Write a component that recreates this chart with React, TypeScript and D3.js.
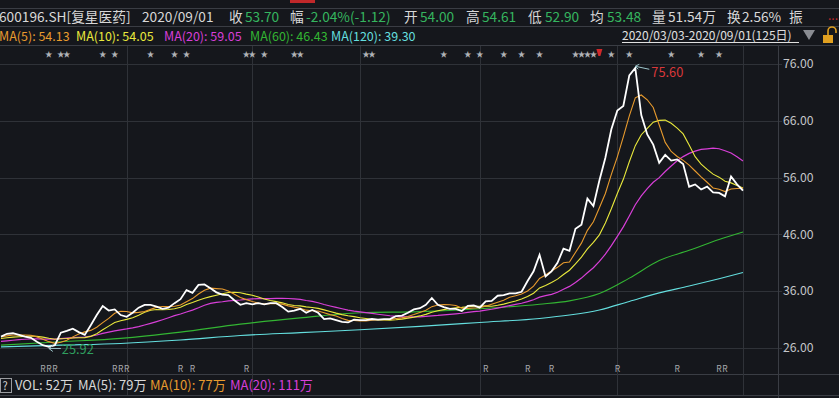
import React from "react";
import * as d3 from "d3";

const W = 839;
const H = 398;

// closes before the visible window (estimated, used only for MA5/10/20 warm-up)
const priorCloses = [26.6, 26.4, 26.2, 26.5, 26.8, 26.9, 27.0, 26.7, 26.5, 26.8, 27.2, 27.5, 27.6, 27.4, 27.3, 27.6, 27.9, 28.2, 28.1];

// daily closes 2020/03/03 - 2020/09/01 (125 trading days)
const closes = [
  28.0, 28.5, 28.6, 28.3, 28.0, 27.8, 27.1, 26.5, 26.2, 26.5,
  28.7, 29.0, 29.4, 28.8, 28.3, 30.0, 31.8, 33.4, 32.6, 32.8,
  31.8, 31.5, 32.2, 33.1, 33.6, 33.6, 33.3, 32.9, 33.1, 33.9,
  34.6, 36.2, 35.7, 37.1, 37.2, 36.5, 35.8, 35.4, 35.3, 34.4,
  33.6, 33.9, 33.7, 33.9, 33.7, 33.9, 33.9, 33.2, 32.4, 32.6,
  32.9, 32.2, 32.7, 32.2, 31.1, 31.2, 30.9, 30.6, 30.5, 31.0,
  30.9, 30.9, 31.1, 31.0, 31.1, 31.1, 31.6, 31.7, 32.2, 32.8,
  33.0, 33.6, 34.8, 33.6, 33.2, 32.9, 32.9, 32.5, 33.4, 33.5,
  33.1, 34.2, 34.3, 35.2, 35.3, 35.6, 35.6, 35.9, 37.8, 39.5,
  42.4, 38.6, 39.5, 41.0, 43.5, 43.1, 47.0, 47.7, 52.3, 51.0,
  55.5, 59.5, 64.5, 67.8, 68.6, 74.0, 75.3, 67.0, 63.6, 61.8,
  58.6, 60.0, 59.0, 59.2, 58.4, 54.4, 54.8, 53.9, 54.4, 53.4,
  53.3, 52.7, 56.2, 54.8, 53.7,
];

const maLongIdx = [0, 10, 20, 30, 40, 50, 60, 70, 80, 90, 95, 100, 105, 110, 115, 120, 124];
const ma60Vals = [26.5, 27.1, 27.7, 28.8, 30.2, 31.3, 32.2, 32.4, 32.9, 33.7, 34.3, 35.6, 38.3, 41.4, 43.2, 45.1, 46.43];
const ma120Vals = [26.2, 26.5, 26.8, 27.4, 28.2, 28.7, 29.2, 29.8, 30.5, 31.2, 31.8, 32.7, 34.2, 35.7, 36.9, 38.2, 39.3];

const priceTicks = [26, 36, 46, 56, 66, 76];
const monthStarts = [21, 42, 60, 80, 103, 124];
const starDays = [8, 10, 11, 17, 19, 25, 29, 31, 41, 42, 44, 49, 50, 61, 62, 74, 78, 80, 84, 87, 90, 96, 97, 98, 99, 102, 105, 112, 117, 120];
const flagDay = 100;
const rDays = [7, 8, 9, 19, 20, 21, 30, 32, 41, 81, 88, 92, 103, 113, 120, 121];
const highIndex = 106;
const highValue = 75.6;
const lowIndex = 8;
const lowValue = 25.92;

const FONT = "'Noto Sans CJK SC', 'Noto Sans', sans-serif";
const BG = "#15171c";
const GRID = "#2f3238";
const GREEN = "#35b55f";
const C_MA5 = "#e89b2e";
const C_MA10 = "#e9e93c";
const C_MA20 = "#d83fd8";
const C_MA60 = "#33b533";
const C_MA120 = "#64dede";

function movingAverage(all: number[], n: number, offset: number, count: number) {
  const out: number[] = [];
  for (let i = 0; i < count; i++) {
    const end = offset + i;
    const start = Math.max(0, end - n + 1);
    out.push(d3.mean(all.slice(start, end + 1)) as number);
  }
  return out;
}

export default function App() {
  const x = d3.scaleLinear().domain([0, closes.length - 1]).range([1, 743]);
  const y = d3.scaleLinear().domain([26, 76]).range([348, 64]);

  const all = [...priorCloses, ...closes];
  const off = priorCloses.length;
  const ma5 = movingAverage(all, 5, off, closes.length);
  const ma10 = movingAverage(all, 10, off, closes.length);
  const ma20 = movingAverage(all, 20, off, closes.length);

  const line = d3.line<number>().x((_, i) => x(i)).y((d) => y(d));
  const lineS = d3
    .line<[number, number]>()
    .x((d) => x(d[0]))
    .y((d) => y(d[1]))
    .curve(d3.curveMonotoneX);
  const ma60Pts = maLongIdx.map((d, i) => [d, ma60Vals[i]] as [number, number]);
  const ma120Pts = maLongIdx.map((d, i) => [d, ma120Vals[i]] as [number, number]);

  const hx = x(highIndex);
  const hy = y(highValue);
  const lx = x(lowIndex);
  const ly = y(lowValue);

  const header: [string, number, string][] = [
    ["600196.SH[复星医药]", -1, "#d8d8d8"],
    ["2020/09/01", 142, "#d8d8d8"],
    ["收", 229, "#d8d8d8"],
    ["53.70", 245, GREEN],
    ["幅", 290, "#d8d8d8"],
    ["-2.04%(-1.12)", 306, GREEN],
    ["开", 404, "#d8d8d8"],
    ["54.00", 420, GREEN],
    ["高", 466, "#d8d8d8"],
    ["54.61", 482, GREEN],
    ["低", 528, "#d8d8d8"],
    ["52.90", 545, GREEN],
    ["均", 590, "#d8d8d8"],
    ["53.48", 607, GREEN],
    ["量", 652, "#d8d8d8"],
    ["51.54万", 668, "#d8d8d8"],
    ["换", 727, "#d8d8d8"],
    ["2.56%", 742, "#d8d8d8"],
    ["振", 789, "#d8d8d8"],
  ];
  const maLegend: [string, number, string][] = [
    ["MA(5): 54.13", -1, C_MA5],
    ["MA(10): 54.05", 76, C_MA10],
    ["MA(20): 59.05", 164, C_MA20],
    ["MA(60): 46.43", 250, C_MA60],
    ["MA(120): 39.30", 331, C_MA120],
  ];
  const volLegend: [string, number, string][] = [
    ["VOL: 52万", 15, "#d8d8d8"],
    ["MA(5): 79万", 78, "#d8d8d8"],
    ["MA(10): 77万", 150, C_MA5],
    ["MA(20): 111万", 230, C_MA20],
  ];

  return (
    <div style={{ position: "fixed", left: 0, top: 0, width: W, height: H, background: BG }}>
      <svg width={W} height={H} style={{ display: "block", fontFamily: FONT }}>
        <rect x={0} y={0} width={W} height={H} fill={BG} />
        {/* top partial row */}
        <rect x={290} y={0} width={25} height={3} fill="#c0282a" />
        <line x1={0} x2={W} y1={8.5} y2={8.5} stroke="#3a3d44" />
        <line x1={0} x2={W} y1={26.5} y2={26.5} stroke="#3a3d44" />
        <line x1={0} x2={W} y1={45.5} y2={45.5} stroke="#3a3d44" />
        <line x1={0} x2={W} y1={374.5} y2={374.5} stroke="#3a3d44" />
        <line x1={0} x2={W} y1={395.5} y2={395.5} stroke="#3a3d44" />

        {/* header */}
        {header.map(([t, tx, c], i) => (
          <text key={"h" + i} x={tx} y={22} fontSize={13.7} fill={c}>{t}</text>
        ))}
        <text x={828} y={20} fontSize={12} fill="#c0282a">...</text>

        {/* MA legend */}
        {maLegend.map(([t, tx, c], i) => (
          <text key={"m" + i} x={tx} y={41} fontSize={12.5} fill={c}>{t}</text>
        ))}
        <text x={622} y={40} fontSize={12} fill="#e0e0e0">2020/03/03-2020/09/01(125日)</text>
        <line x1={622} x2={799} y1={42.5} y2={42.5} stroke="#e0e0e0" />
        <path d="M803,30 L815,30 L809,40 Z" fill="#8a8c92" />
        <rect x={823} y={35} width={10} height={8} fill="#e0a020" />
        <path d="M828,35 L828,31 A4,4 0 0 1 836,31 L836,33" fill="none" stroke="#e0a020" strokeWidth={1.6} />

        {/* grid */}
        {priceTicks.map((t) => (
          <g key={"g" + t}>
            <line x1={0} x2={782} y1={Math.round(y(t)) + 0.5} y2={Math.round(y(t)) + 0.5} stroke={GRID} />
            <text x={783} y={y(t)} dy="0.35em" fontSize={12.2} fill="#c4c6ca">{t.toFixed(2)}</text>
          </g>
        ))}
        {monthStarts.map((d) => (
          <line key={"v" + d} x1={Math.round(x(d)) + 0.5} x2={Math.round(x(d)) + 0.5} y1={46} y2={395} stroke={GRID} />
        ))}
        <line x1={778.5} x2={778.5} y1={46} y2={H} stroke="#3a3d44" />

        {/* stars and R markers */}
        {starDays.map((d, i) => (
          <text key={"s" + i} x={x(d)} y={57} fontSize={7.5} textAnchor="middle" fill="#b0b2b6">★</text>
        ))}
        <path d={`M${x(flagDay) - 3},49 L${x(flagDay) + 3},49 L${x(flagDay) + 1},56 L${x(flagDay) - 1},56 Z`} fill="#d0282a" />
        {rDays.map((d, i) => (
          <text key={"r" + i} x={x(d)} y={372} fontSize={8.5} textAnchor="middle" fill="#a8aaae">R</text>
        ))}

        {/* lines */}
        <path d={lineS(ma120Pts) || ""} fill="none" stroke={C_MA120} strokeWidth={1.1} />
        <path d={lineS(ma60Pts) || ""} fill="none" stroke={C_MA60} strokeWidth={1.1} />
        <path d={line(ma20) || ""} fill="none" stroke={C_MA20} strokeWidth={1.2} />
        <path d={line(ma10) || ""} fill="none" stroke={C_MA10} strokeWidth={1.1} />
        <path d={line(ma5) || ""} fill="none" stroke={C_MA5} strokeWidth={1.1} />
        <path d={line(closes) || ""} fill="none" stroke="#ffffff" strokeWidth={1.8} />

        {/* high / low annotation */}
        <line x1={hx} y1={hy} x2={hx + 14} y2={hy + 3} stroke="#9ec6cc" strokeWidth={1} />
        <path d={`M${hx + 4},${hy - 2} L${hx},${hy} L${hx + 3},${hy + 3}`} fill="none" stroke="#9ec6cc" strokeWidth={1} />
        <text x={hx + 16} y={hy + 6} dy="0.35em" fontSize={12.8} fill="#d9383a">{highValue.toFixed(2)}</text>
        <line x1={lx} y1={ly} x2={lx + 12} y2={ly} stroke="#9ec6cc" strokeWidth={1} />
        <path d={`M${lx + 4},${ly - 3} L${lx},${ly} L${lx + 4},${ly + 3}`} fill="none" stroke="#9ec6cc" strokeWidth={1} />
        <text x={lx + 13} y={ly + 1} dy="0.35em" fontSize={12.8} fill="#2f9e5e">{lowValue.toFixed(2)}</text>

        {/* VOL legend */}
        <rect x={0.5} y={378.5} width={11} height={14} fill="none" stroke="#9a9ca0" />
        <text x={2.5} y={390} fontSize={11} fill="#d8d8d8">?</text>
        {volLegend.map(([t, tx, c], i) => (
          <text key={"vl" + i} x={tx} y={390} fontSize={13} fill={c}>{t}</text>
        ))}
      </svg>
    </div>
  );
}
